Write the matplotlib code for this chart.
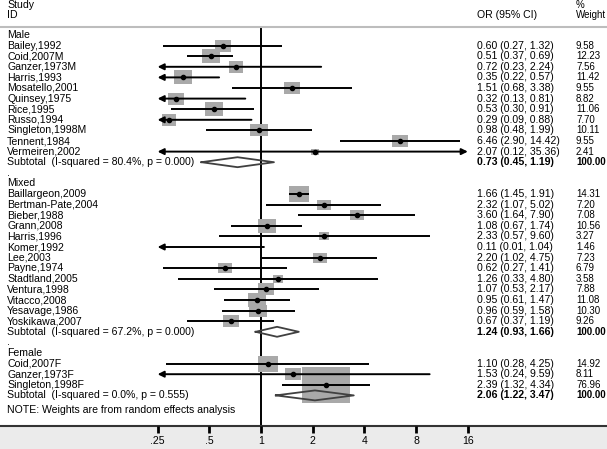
import matplotlib
matplotlib.use('Agg')
import matplotlib.pyplot as plt
from matplotlib.path import Path
from matplotlib.transforms import blended_transform_factory

plt.rcParams['font.family'] = ['Liberation Sans', 'DejaVu Sans']

# ---- data (odds ratios, 95% CI, % weight) ----
male_ids = ['Bailey,1992', 'Coid,2007M', 'Ganzer,1973M', 'Harris,1993', 'Mosatello,2001',
            'Quinsey,1975', 'Rice,1995', 'Russo,1994', 'Singleton,1998M', 'Tennent,1984',
            'Vermeiren,2002']
male_or = [0.60, 0.51, 0.72, 0.35, 1.51, 0.32, 0.53, 0.29, 0.98, 6.46, 2.07]
male_lo = [0.27, 0.37, 0.23, 0.22, 0.68, 0.13, 0.30, 0.09, 0.48, 2.90, 0.12]
male_hi = [1.32, 0.69, 2.24, 0.57, 3.38, 0.81, 0.91, 0.88, 1.99, 14.42, 35.36]
male_wt = [9.58, 12.23, 7.56, 11.42, 9.55, 8.82, 11.06, 7.70, 10.11, 9.55, 2.41]
male_sub = [0.73, 0.45, 1.19]
male_het = 'Subtotal  (I-squared = 80.4%, p = 0.000)'

mixed_ids = ['Baillargeon,2009', 'Bertman-Pate,2004', 'Bieber,1988', 'Grann,2008', 'Harris,1996',
             'Komer,1992', 'Lee,2003', 'Payne,1974', 'Stadtland,2005', 'Ventura,1998',
             'Vitacco,2008', 'Yesavage,1986', 'Yoskikawa,2007']
mixed_or = [1.66, 2.32, 3.60, 1.08, 2.33, 0.11, 2.20, 0.62, 1.26, 1.07, 0.95, 0.96, 0.67]
mixed_lo = [1.45, 1.07, 1.64, 0.67, 0.57, 0.01, 1.02, 0.27, 0.33, 0.53, 0.61, 0.59, 0.37]
mixed_hi = [1.91, 5.02, 7.90, 1.74, 9.60, 1.04, 4.75, 1.41, 4.80, 2.17, 1.47, 1.58, 1.19]
mixed_wt = [14.31, 7.20, 7.08, 10.56, 3.27, 1.46, 7.23, 6.79, 3.58, 7.88, 11.08, 10.30, 9.26]
mixed_sub = [1.24, 0.93, 1.66]
mixed_het = 'Subtotal  (I-squared = 67.2%, p = 0.000)'

female_ids = ['Coid,2007F', 'Ganzer,1973F', 'Singleton,1998F']
female_or = [1.10, 1.53, 2.39]
female_lo = [0.28, 0.24, 1.32]
female_hi = [4.25, 9.59, 4.34]
female_wt = [14.92, 8.11, 76.96]
female_sub = [2.06, 1.22, 3.47]
female_het = 'Subtotal  (I-squared = 0.0%, p = 0.555)'

tick_vals = [0.25, 0.5, 1, 2, 4, 8, 16]
tick_labels = ['.25', '.5', '1', '2', '4', '8', '16']

groups = [
    ('Male', male_ids, male_or, male_lo, male_hi, male_wt, male_sub, male_het),
    ('Mixed', mixed_ids, mixed_or, mixed_lo, mixed_hi, mixed_wt, mixed_sub, mixed_het),
    ('Female', female_ids, female_or, female_lo, female_hi, female_wt, female_sub, female_het),
]

# ---- layout (pixels of the 607x449 canvas) ----
W, H = 607, 449
PPD = 51.7          # pixels per doubling
X1 = 261            # pixel of OR = 1
ROW0, ROWH = 35, 10.6
XMIN, XMAX = 0.25, 16
FS = 7.6
FSW = 7.0           # weight column
XW = 576


def row_of(py):
    return (py - ROW0) / ROWH


fig = plt.figure(figsize=(W / 100, H / 100), dpi=100)
ax = fig.add_axes([0, 0, 1, 1])
ax.set_xscale('log', base=2)
ax.set_xlim(2 ** (-X1 / PPD), 2 ** ((W - X1) / PPD))
ax.set_ylim(row_of(H), row_of(0))
ax.axis('off')
tr = blended_transform_factory(ax.transAxes, ax.transData)


def label(px, row, s, size=FS, **kw):
    ax.text(px / W, row, s, transform=tr, fontsize=size, va='center', ha='left', **kw)


box = Path([(-1, -0.75), (1, -0.75), (1, 0.75), (-1, 0.75), (-1, -0.75)],
           [Path.MOVETO, Path.LINETO, Path.LINETO, Path.LINETO, Path.CLOSEPOLY])

# headers
label(7, row_of(5), 'Study')
label(7, row_of(15), 'ID')
label(477, row_of(15), 'OR (95% CI)')
label(XW, row_of(5), '%', size=FSW)
label(XW, row_of(15), 'Weight', size=FSW)

top_row = row_of(27)
bot_row = row_of(426)
ax.axhline(top_row, color='#bdbdbd', lw=1.5)

r = 0
for gi, (name, ids, ors, los, his, wts, sub, het) in enumerate(groups):
    label(7, r, name)
    r += 1
    for sid, o, lo, hi, w in zip(ids, ors, los, his, wts):
        label(7, r, sid)
        label(477, r, '%.2f (%.2f, %.2f)' % (o, lo, hi))
        label(XW, r, '%.2f' % w, size=FSW)
        if XMIN <= o <= XMAX:
            ax.scatter([o], [r], s=15.1 * w, marker=box, color='#a9a9a9', lw=0, zorder=2)
        a, b = max(lo, XMIN), min(hi, XMAX)
        if lo < XMIN and hi > XMAX:
            style = '<|-|>'
        elif lo < XMIN:
            style = '<|-'
        elif hi > XMAX:
            style = '-|>'
        else:
            style = None
        if style:
            ax.annotate('', xy=(b, r), xytext=(a, r),
                        arrowprops=dict(arrowstyle=style, color='black', lw=1.4,
                                        mutation_scale=9, shrinkA=0, shrinkB=0),
                        zorder=3)
        else:
            ax.plot([a, b], [r, r], color='black', lw=1.4, solid_capstyle='butt', zorder=3)
        if XMIN <= o <= XMAX:
            ax.plot([o], [r], 'o', color='black', ms=3, zorder=4)
        r += 1
    est, slo, shi = sub
    label(7, r, het)
    label(477, r, '%.2f (%.2f, %.2f)' % (est, slo, shi), fontweight='bold')
    label(XW, r, '%.2f' % 100, size=FSW, fontweight='bold')
    ax.plot([slo, est, shi, est, slo], [r, r - 0.47, r, r + 0.47, r],
            color='#404040', lw=1.3, zorder=5)
    r += 1
    if gi < len(groups) - 1:
        label(7, r, '.')
        r += 1

label(7, row_of(410), 'NOTE: Weights are from random effects analysis')

# null line
ax.plot([1, 1], [top_row, bot_row], color='black', lw=1.4, zorder=1)

# bottom axis band
ax.axhspan(bot_row, row_of(H), color='#ebebeb', zorder=0)
ax.axhline(bot_row, color='#333333', lw=1.5)
ax.vlines(tick_vals, bot_row, row_of(433), color='black', lw=2)
for tv, tl in zip(tick_vals, tick_labels):
    ax.text(tv, row_of(441), tl, fontsize=FS, ha='center', va='center')

fig.savefig('out.png', dpi=100)
